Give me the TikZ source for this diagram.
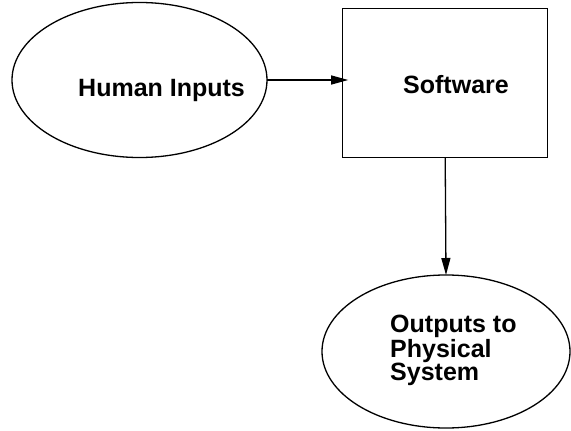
\documentclass[tikz,border=0pt]{standalone}
\usepackage{fontspec}
\setmainfont{Liberation Sans}
\usetikzlibrary{shapes.geometric,arrows.meta}
\begin{document}
\begin{tikzpicture}[x=1pt,y=-1pt,
  shp/.style={draw,line width=1.3pt,inner sep=0pt,outer sep=0pt},
  ell/.style={shp,ellipse},
  box/.style={shp,rectangle},
  lbl/.style={font=\fontsize{25}{21}\selectfont\bfseries,inner sep=0pt,align=left},
  conn/.style={line width=1.3pt,-{Triangle[length=17pt,width=9pt]}}]
\useasboundingbox[fill=white] (0,0) rectangle (571,431);
\node[ell,minimum width=255pt,minimum height=155pt] (hi) at (139.5,80) {};
\node[box,minimum width=205pt,minimum height=149.4pt] (sw) at (445.2,83) {};
\node[ell,minimum width=248pt,minimum height=153pt] (out) at (446,351.5) {};
\node[lbl,anchor=base west] (thi) at (78,96.7) {Human Inputs};
\node[lbl,anchor=base west] (tsw) at (403,93.3) {Software};
\node[lbl,anchor=base west] (tout) at (390,380.7) {Outputs to\\Physical\\System};
\draw[conn] (hi.east) -- ([xshift=5.5pt]hi.east -| sw.west);
\draw[conn] (sw.south) -- (out.north);
\end{tikzpicture}
\end{document}
